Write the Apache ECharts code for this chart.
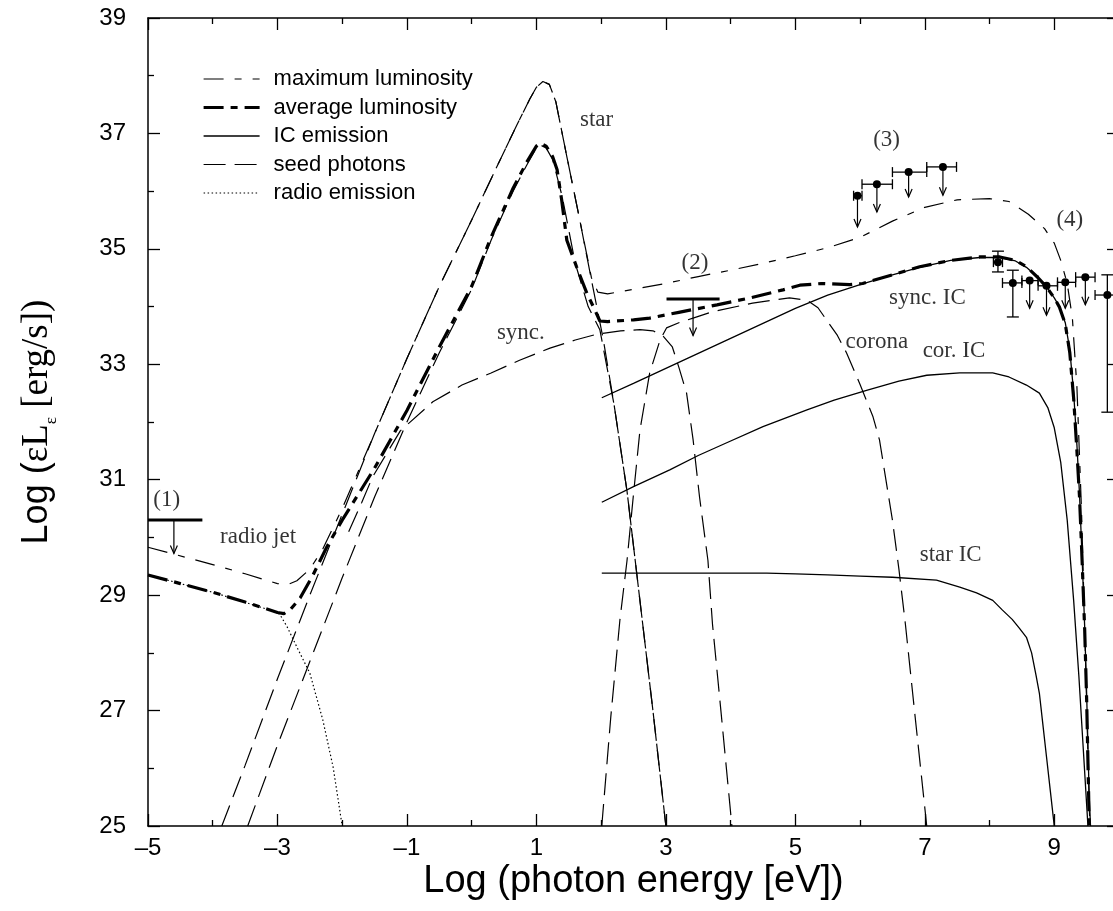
<!DOCTYPE html>
<html>
<head>
<meta charset="utf-8">
<script src="https://cdn.jsdelivr.net/npm/echarts@6/dist/echarts.min.js"></script>
<style>
  html, body { margin: 0; padding: 0; background: #fff; }
  #chart { width: 1113px; height: 911px; }
</style>
</head>
<body>
<div id="chart"></div>
<script>
// Spectral energy distribution: log photon energy [eV] vs log(eps L_eps) [erg/s]

const xTickValues = [-5, -3, -1, 1, 3, 5, 7, 9];
const xMinorValues = [-4, -2, 0, 2, 4, 6, 8];
const yTickValues = [25, 27, 29, 31, 33, 35, 37, 39];
const yMinorValues = [26, 28, 30, 32, 34, 36, 38];

// total spectra
const maxLuminosity = [
  [-5.0, 29.83], [-4.0, 29.53], [-3.5, 29.37], [-3.0, 29.2], [-2.85, 29.18], [-2.7, 29.25],
  [-2.5, 29.45], [-2.3, 29.8], [-2.0, 30.5], [-1.5, 31.8], [-1.0, 33.1], [-0.5, 34.35],
  [0.0, 35.5], [0.4, 36.45], [0.7, 37.15], [0.9, 37.6], [1.0, 37.8], [1.1, 37.9],
  [1.2, 37.85], [1.3, 37.55], [1.47, 36.6], [1.67, 35.5], [1.85, 34.5], [1.95, 34.25],
  [2.1, 34.22], [2.5, 34.3], [3.0, 34.4], [3.5, 34.52], [4.0, 34.63], [4.5, 34.75],
  [5.0, 34.88], [5.5, 35.02], [6.0, 35.2], [6.5, 35.48], [7.0, 35.72], [7.5, 35.85],
  [8.0, 35.87], [8.3, 35.82], [8.6, 35.6], [8.85, 35.35], [9.0, 35.1], [9.1, 34.8],
  [9.2, 34.4], [9.28, 33.8], [9.35, 32.6], [9.42, 30.5], [9.48, 28.0], [9.53, 25.8], [9.55, 25.0]
];
const averageLuminosity = [
  [-5.0, 29.35], [-4.5, 29.2], [-4.0, 29.05], [-3.5, 28.88], [-3.0, 28.7], [-2.9, 28.68],
  [-2.8, 28.75], [-2.65, 28.95], [-2.45, 29.35], [-2.24, 29.83], [-2.0, 30.3], [-1.5, 31.2],
  [-1.0, 32.2], [-0.5, 33.3], [0.0, 34.35], [0.3, 35.2], [0.64, 36.05], [0.85, 36.5],
  [1.0, 36.78], [1.06, 36.83], [1.15, 36.78], [1.25, 36.6], [1.32, 36.37], [1.39, 35.85],
  [1.47, 35.15], [1.62, 34.69], [1.78, 34.23], [1.9, 33.95], [1.98, 33.75], [2.1, 33.74],
  [2.5, 33.77], [2.75, 33.8], [3.2, 33.9], [3.79, 34.03], [4.3, 34.15], [4.81, 34.29],
  [5.07, 34.37], [5.4, 34.4], [5.84, 34.38], [6.04, 34.4], [6.5, 34.55], [6.92, 34.69],
  [7.4, 34.8], [7.85, 34.86], [8.16, 34.86], [8.4, 34.8], [8.57, 34.69], [8.75, 34.5],
  [8.88, 34.34], [9.0, 34.15], [9.08, 33.99], [9.17, 33.7], [9.24, 33.2], [9.3, 32.4],
  [9.35, 31.5], [9.39, 30.7], [9.43, 29.6], [9.47, 28.4], [9.5, 27.2], [9.53, 25.6], [9.54, 25.0]
];
const radioEmission = [
  [-5.0, 29.35], [-4.0, 29.05], [-3.0, 28.7], [-2.96, 28.66], [-2.85, 28.45], [-2.7, 28.1],
  [-2.5, 27.65], [-2.3, 26.84], [-2.14, 26.02], [-2.0, 25.0]
];

// seed photon fields
const starHigh = [
  [-3.86, 25.0], [-3.5, 26.05], [-3.0, 27.55], [-2.5, 29.0], [-2.0, 30.4], [-1.5, 31.8],
  [-1.0, 33.1], [-0.5, 34.35], [0.0, 35.5], [0.4, 36.45], [0.7, 37.15], [0.9, 37.6],
  [1.0, 37.8], [1.1, 37.9], [1.2, 37.85], [1.3, 37.55], [1.47, 36.6], [1.67, 35.5],
  [1.87, 34.35], [2.03, 33.45], [2.2, 32.3], [2.4, 30.8], [2.6, 28.9], [2.8, 27.0], [3.0, 25.0]
];
const starLow = [
  [-3.46, 25.0], [-3.0, 26.4], [-2.5, 27.85], [-2.0, 29.3], [-1.5, 30.7], [-1.0, 32.0],
  [-0.5, 33.2], [0.0, 34.3], [0.3, 35.15], [0.64, 36.0], [0.85, 36.45], [1.0, 36.75],
  [1.06, 36.8], [1.15, 36.75], [1.25, 36.55], [1.4, 35.9], [1.6, 34.75], [1.8, 34.0],
  [1.98, 33.6], [2.2, 32.3], [2.4, 30.8], [2.6, 28.9], [2.8, 27.0], [3.0, 25.0]
];
const syncSeed = [
  [-1.9, 30.1], [-1.7, 30.6], [-1.53, 31.05], [-1.1, 31.85], [-0.6, 32.35], [-0.15, 32.64],
  [0.3, 32.85], [0.74, 33.07], [1.21, 33.28], [1.6, 33.42], [1.93, 33.52], [2.3, 33.58],
  [2.6, 33.6], [2.8, 33.58], [2.95, 33.5], [3.1, 33.3], [3.2, 32.95], [3.32, 32.5],
  [3.42, 31.7], [3.52, 30.7], [3.65, 29.6], [3.72, 28.5], [3.85, 27.0], [4.02, 25.0]
];
const coronaSeed = [
  [2.01, 25.0], [2.15, 26.9], [2.29, 28.57], [2.4, 29.6], [2.5, 30.75], [2.6, 31.86],
  [2.75, 32.85], [2.91, 33.42], [3.01, 33.63], [3.2, 33.72], [3.42, 33.8], [3.72, 33.91],
  [4.34, 34.06], [4.91, 34.15], [5.18, 34.11], [5.35, 33.98], [5.48, 33.77], [5.65, 33.5],
  [5.79, 33.2], [6.0, 32.65], [6.2, 32.09], [6.3, 31.69], [6.5, 30.3], [6.6, 29.45],
  [6.7, 28.5], [6.85, 26.9], [7.03, 25.0]
];

// inverse Compton components
const syncIC = [
  [2.01, 32.42], [2.5, 32.67], [3.0, 32.93], [3.5, 33.19], [4.0, 33.45], [4.5, 33.71],
  [5.0, 33.97], [5.5, 34.2], [6.0, 34.38], [6.5, 34.55], [6.92, 34.68], [7.4, 34.8],
  [7.85, 34.85], [8.16, 34.85], [8.4, 34.79], [8.57, 34.68], [8.75, 34.5], [8.88, 34.34],
  [9.0, 34.15], [9.08, 34.0], [9.17, 33.72], [9.24, 33.25], [9.3, 32.5], [9.35, 31.6],
  [9.39, 30.75], [9.43, 29.65], [9.47, 28.45], [9.5, 27.3], [9.54, 25.5], [9.56, 25.0]
];
const coronaIC = [
  [2.01, 30.61], [2.5, 30.88], [3.06, 31.17], [3.5, 31.42], [3.94, 31.64], [4.5, 31.92],
  [5.18, 32.21], [5.6, 32.38], [6.1, 32.55], [6.6, 32.71], [7.03, 32.81], [7.54, 32.85],
  [8.05, 32.85], [8.3, 32.78], [8.57, 32.64], [8.77, 32.5], [8.9, 32.25], [9.0, 31.9],
  [9.1, 31.3], [9.2, 30.3], [9.3, 28.9], [9.38, 27.6], [9.45, 26.3], [9.52, 25.0]
];
const starIC = [
  [2.01, 29.38], [3.0, 29.38], [4.0, 29.38], [4.56, 29.38], [5.0, 29.37], [5.5, 29.35],
  [6.0, 29.33], [6.5, 29.31], [7.18, 29.26], [7.54, 29.14], [7.8, 29.04], [8.05, 28.91],
  [8.2, 28.74], [8.35, 28.58], [8.46, 28.43], [8.57, 28.27], [8.65, 28.0], [8.72, 27.6],
  [8.77, 27.3], [8.82, 26.8], [8.88, 26.2], [8.94, 25.6], [9.0, 25.0]
];

// observational upper limits drawn as bars: [xFrom, xTo, y, xArrow, yArrowTip]
const limitBars = [
  [-5.0, -4.16, 30.3, -4.6, 29.72],
  [3.01, 3.83, 34.13, 3.42, 33.5]
];
// gamma-ray points: [x, y, xLow, xHigh, yLow, yHigh, yArrowTip]
const egretPoints = [
  [5.96, 35.92, 5.90, 6.03, null, null, 35.38],
  [6.26, 36.12, 6.03, 6.50, null, null, 35.64],
  [6.75, 36.33, 6.50, 7.03, null, null, 35.90],
  [7.28, 36.42, 7.03, 7.49, null, null, 35.93]
];
const tevPoints = [
  [8.13, 34.77, 8.06, 8.20, 34.60, 34.96, null],
  [8.36, 34.41, 8.20, 8.50, 33.82, 34.63, null],
  [8.62, 34.45, 8.50, 8.75, null, null, 33.97],
  [8.88, 34.36, 8.75, 9.05, null, null, 33.85],
  [9.17, 34.42, 9.05, 9.33, null, null, 33.97],
  [9.48, 34.51, 9.33, 9.63, null, null, 34.03],
  [9.82, 34.20, 9.63, 10.0, 32.17, 34.55, null]
];

// text annotations: [text, x, y]
const notes = [
  ['star', 1.93, 37.23], ['sync.', 0.76, 33.54], ['radio jet', -3.30, 30.01],
  ['corona', 6.26, 33.39], ['cor. IC', 7.45, 33.23], ['sync. IC', 7.04, 34.15],
  ['star IC', 7.40, 29.69], ['(1)', -4.71, 30.65], ['(2)', 3.45, 34.75],
  ['(3)', 6.41, 36.89], ['(4)', 9.24, 35.5]
];

const SANS = 'Liberation Sans, Arial, Helvetica, sans-serif';
const SERIF = 'Liberation Serif, Times New Roman, serif';

const styles = {
  'maximum luminosity': { width: 1.2, type: [20, 11, 7, 11] },
  'average luminosity': { width: 3.2, type: [20, 7, 7, 7] },
  'IC emission': { width: 1.3, type: 'solid' },
  'seed photons': { width: 1.2, type: [22, 9] },
  'radio emission': { width: 1.2, type: [1.5, 2.5] }
};

function curve(name, data, z) {
  return {
    type: 'line', name: name, data: data, symbol: 'none', showSymbol: false,
    xAxisIndex: 0, yAxisIndex: 0, silent: true, z: z || 2, clip: true,
    lineStyle: { color: '#000', width: styles[name].width, type: styles[name].type },
    emphasis: { disabled: true }
  };
}

function seg(a, b, w) {
  return { type: 'line', shape: { x1: a[0], y1: a[1], x2: b[0], y2: b[1] },
           style: { stroke: '#000', lineWidth: w || 1.3 } };
}
function arrow(api, x, y0, y1) {
  const a = api.coord([x, y0]), b = api.coord([x, y1]);
  return [
    seg(a, b, 1.2),
    { type: 'polyline', shape: { points: [[b[0] - 3.5, b[1] - 8], [b[0], b[1]], [b[0] + 3.5, b[1] - 8]] },
      style: { stroke: '#000', lineWidth: 1.2, fill: null } }
  ];
}

function renderPoints(list) {
  return function (params, api) {
    const p = list[params.dataIndex];
    const c = api.coord([p[0], p[1]]);
    const lo = api.coord([p[2], p[1]]);
    const hi = api.coord([p[3], p[1]]);
    let kids = [
      seg(lo, hi),
      seg([lo[0], lo[1] - 5], [lo[0], lo[1] + 5]),
      seg([hi[0], hi[1] - 5], [hi[0], hi[1] + 5])
    ];
    if (p[4] != null) {
      const a = api.coord([p[0], p[4]]), b = api.coord([p[0], p[5]]);
      kids.push(seg(a, b), seg([a[0] - 6, a[1]], [a[0] + 6, a[1]]), seg([b[0] - 6, b[1]], [b[0] + 6, b[1]]));
    }
    if (p[6] != null) kids = kids.concat(arrow(api, p[0], p[1], p[6]));
    kids.push({ type: 'circle', shape: { cx: c[0], cy: c[1], r: 4 }, style: { fill: '#000' } });
    return { type: 'group', children: kids };
  };
}

function renderLimits(params, api) {
  const p = limitBars[params.dataIndex];
  const a = api.coord([p[0], p[2]]), b = api.coord([p[1], p[2]]);
  return { type: 'group', children: [seg(a, b, 3)].concat(arrow(api, p[3], p[2], p[4])) };
}

const series = [
  curve('radio emission', radioEmission, 1),
  curve('seed photons', starHigh),
  curve('seed photons', starLow),
  curve('seed photons', syncSeed),
  curve('seed photons', coronaSeed),
  curve('IC emission', syncIC),
  curve('IC emission', coronaIC),
  curve('IC emission', starIC),
  curve('maximum luminosity', maxLuminosity, 3),
  curve('average luminosity', averageLuminosity, 4),
  {
    type: 'custom', name: 'limits', data: limitBars.map(p => [p[3], p[2]]),
    renderItem: renderLimits, silent: true, z: 5, clip: false
  },
  {
    type: 'custom', name: 'egret', data: egretPoints.map(p => [p[0], p[1]]),
    renderItem: renderPoints(egretPoints), silent: true, z: 5, clip: false
  },
  {
    type: 'custom', name: 'tev', data: tevPoints.map(p => [p[0], p[1]]),
    renderItem: renderPoints(tevPoints), silent: true, z: 5, clip: false
  },
  {
    type: 'scatter', name: 'notes', symbolSize: 0, silent: true, z: 6,
    data: notes.map(n => ({ name: n[0], value: [n[1], n[2]] })),
    label: {
      show: true, position: 'inside', formatter: '{b}', color: '#000',
      fontFamily: SERIF, fontSize: 23, align: 'center', verticalAlign: 'middle'
    },
    emphasis: { disabled: true }
  }
];

function minus(v) { return String(v).replace('-', '\u2013'); }

const tickLine = { color: '#000', width: 1.3 };

// one axis per tick family; all share the same grid and range
function axis(position, range, ticks, len, withLine, extra) {
  return Object.assign({
    type: 'value', gridIndex: 0, position: position,
    min: range[0], max: range[1],
    splitLine: { show: false },
    axisLine: { show: withLine, onZero: false, lineStyle: { color: '#000', width: 1.5 } },
    axisTick: { show: true, inside: true, length: len, customValues: ticks, lineStyle: tickLine },
    axisLabel: { show: false },
    minorTick: { show: false }
  }, extra || {});
}

const xRange = [-5, 10];
const yRange = [25, 39];

const option = {
  animation: false,
  backgroundColor: '#fff',
  textStyle: { fontFamily: SANS, color: '#000' },
  grid: { left: 148, top: 18, right: -6, bottom: 85, containLabel: false, outerBoundsMode: 'none' },
  legend: {
    left: 197, top: 63, orient: 'vertical',
    itemWidth: 56, itemHeight: 14, itemGap: 6.5,
    selectedMode: false,
    textStyle: { fontFamily: SANS, fontSize: 22, color: '#000', padding: [0, 0, 0, 9] },
    itemStyle: { opacity: 0, borderWidth: 0 },
    data: Object.keys(styles).map(n => ({
      name: n,
      itemStyle: { opacity: 0, borderWidth: 0 },
      lineStyle: { color: '#000', width: styles[n].width, type: styles[n].type, opacity: 1 }
    }))
  },
  xAxis: [
    axis('bottom', xRange, xTickValues, 12, true, {
      axisLabel: { show: true, customValues: xTickValues, formatter: minus, fontSize: 24, color: '#000', fontFamily: SANS, margin: 10 },
      name: 'Log (photon energy [eV])', nameLocation: 'middle', nameGap: 37, nameMoveOverlap: false,
      nameTextStyle: { fontSize: 38, fontFamily: SANS, color: '#000' }
    }),
    axis('bottom', xRange, xMinorValues, 6, false),
    axis('top', xRange, xTickValues, 12, true),
    axis('top', xRange, xMinorValues, 6, false)
  ],
  yAxis: [
    axis('left', yRange, yTickValues, 12, true, {
      axisLabel: { show: true, customValues: yTickValues, fontSize: 24, color: '#000', fontFamily: SANS, margin: 22 },
      name: '{a|Log (}{b|\u03b5L}{c|\u03b5}{b| [erg/s])}', nameLocation: 'middle', nameGap: 88, nameRotate: 90,
      nameMoveOverlap: false,
      nameTextStyle: {
        rich: {
          a: { fontFamily: SANS, fontSize: 36, color: '#000', lineHeight: 46, verticalAlign: 'middle' },
          b: { fontFamily: SERIF, fontSize: 37, color: '#000', lineHeight: 46, verticalAlign: 'middle' },
          c: { fontFamily: SERIF, fontSize: 17, color: '#000', lineHeight: 46, verticalAlign: 'bottom' }
        }
      }
    }),
    axis('left', yRange, yMinorValues, 6, false),
    axis('right', yRange, yTickValues, 12, true),
    axis('right', yRange, yMinorValues, 6, false)
  ],
  series: series
};

const chart = echarts.init(document.getElementById('chart'), null, { renderer: 'canvas' });
chart.setOption(option);
</script>
</body>
</html>
